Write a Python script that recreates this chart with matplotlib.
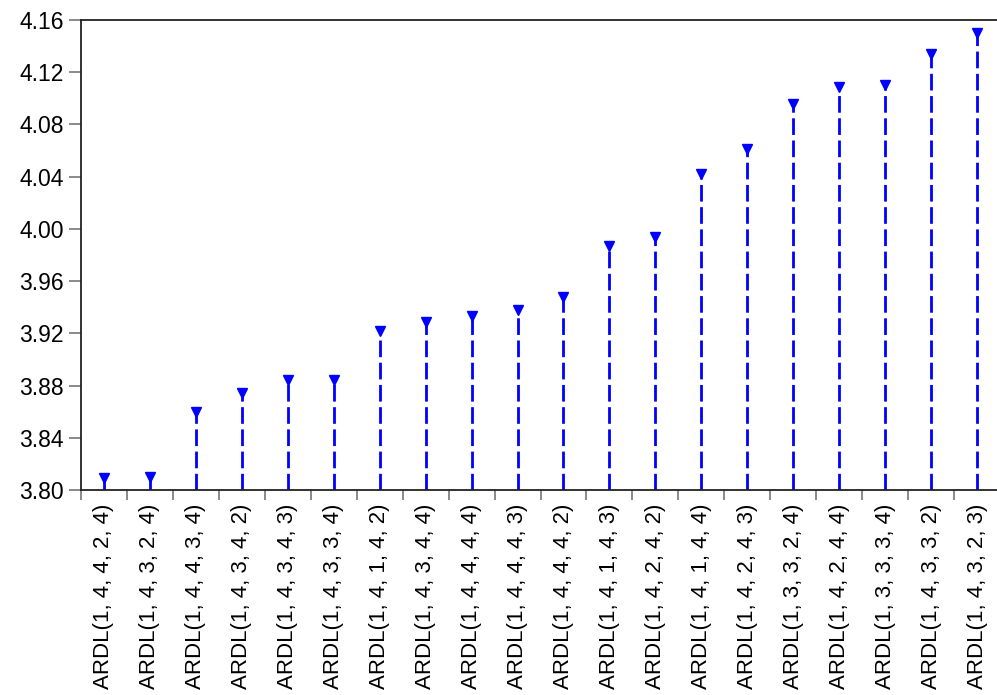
import matplotlib
matplotlib.use("Agg")
import matplotlib.pyplot as plt
from matplotlib.transforms import ScaledTranslation
import numpy as np

# Akaike criteria for the top 20 models
models = [
    "ARDL(1, 4, 4, 2, 4)", "ARDL(1, 4, 3, 2, 4)", "ARDL(1, 4, 4, 3, 4)",
    "ARDL(1, 4, 3, 4, 2)", "ARDL(1, 4, 3, 4, 3)", "ARDL(1, 4, 3, 3, 4)",
    "ARDL(1, 4, 1, 4, 2)", "ARDL(1, 4, 3, 4, 4)", "ARDL(1, 4, 4, 4, 4)",
    "ARDL(1, 4, 4, 4, 3)", "ARDL(1, 4, 4, 4, 2)", "ARDL(1, 4, 1, 4, 3)",
    "ARDL(1, 4, 2, 4, 2)", "ARDL(1, 4, 1, 4, 4)", "ARDL(1, 4, 2, 4, 3)",
    "ARDL(1, 3, 3, 2, 4)", "ARDL(1, 4, 2, 4, 4)", "ARDL(1, 3, 3, 3, 4)",
    "ARDL(1, 4, 3, 3, 2)", "ARDL(1, 4, 3, 2, 3)",
]
aic = [3.809, 3.810, 3.860, 3.874, 3.884, 3.884, 3.922, 3.929, 3.933, 3.938,
       3.948, 3.987, 3.994, 4.042, 4.061, 4.096, 4.109, 4.110, 4.134, 4.150]
yticks = [3.80, 3.84, 3.88, 3.92, 3.96, 4.00, 4.04, 4.08, 4.12, 4.16]

plt.rcParams['font.family'] = ['Liberation Sans', 'DejaVu Sans']

fig = plt.figure(figsize=(9.97, 6.95), dpi=100)
ax = fig.add_axes([81/997, 1 - 490/695, 919/997, 470/695])

x = np.arange(len(models))
base = yticks[0]
ax.vlines(x, base, aic, colors='#0000ff', linestyles=(0, (6, 2)), linewidth=2)
ax.plot(x, aic, linestyle='none', marker='v', color='#0000ff', markersize=6.5)

ax.set_xlim(-0.5, len(models) - 0.5)
ax.set_ylim(yticks[0], yticks[-1])
ax.set_yticks(yticks)
ax.set_yticklabels([f"{v:.2f}" for v in yticks], fontsize=16.5)
# labels sit a bit above their ticks
shift = ScaledTranslation(0, 4/72, fig.dpi_scale_trans)
for lab in ax.get_yticklabels():
    lab.set_transform(lab.get_transform() + shift)

ax.set_xticks(x)
ax.set_xticklabels(models, rotation=90, fontsize=16)
ax.set_xticks(np.arange(len(models) + 1) - 0.5, minor=True)
ax.tick_params(axis='x', which='major', length=0, pad=10)
ax.tick_params(axis='x', which='minor', length=7.2, color='#777777', width=1.2)
ax.tick_params(axis='y', length=8.6, color='#777777', width=1.2, pad=4)

ax.spines['right'].set_visible(False)
for s in ['left', 'top', 'bottom']:
    ax.spines[s].set_linewidth(1.3)
    ax.spines[s].set_color('#222222')

fig.savefig("out.png", dpi=100)
